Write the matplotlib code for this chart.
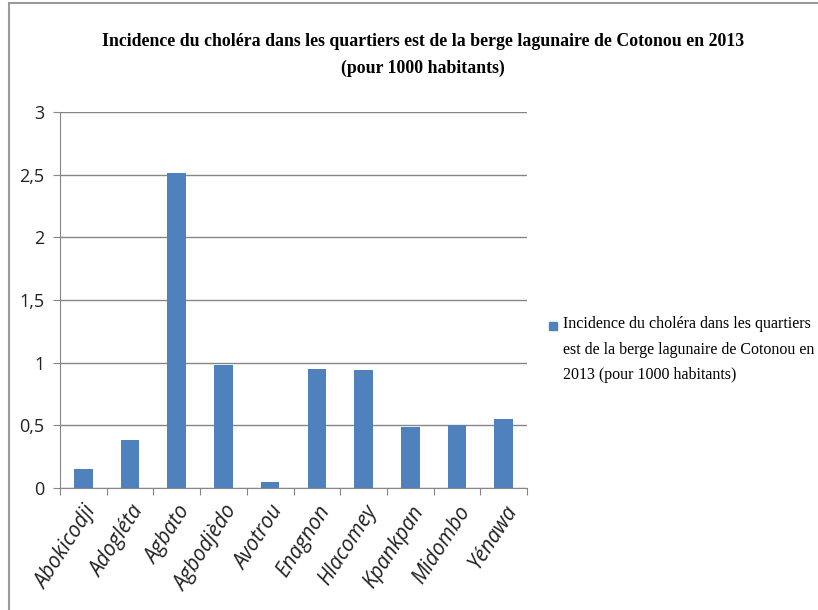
import matplotlib.pyplot as plt
from matplotlib.patches import Rectangle
from matplotlib.ticker import FuncFormatter

quartiers = ["Abokicodji", "Adogléta", "Agbato", "Agbodjèdo", "Avotrou",
             "Enagnon", "Hlacomey", "Kpankpan", "Midombo", "Yénawa"]
incidence = [0.15, 0.38, 2.51, 0.98, 0.05, 0.95, 0.94, 0.49, 0.50, 0.55]
y_ticks = [0, 0.5, 1, 1.5, 2, 2.5, 3]

titre = ("Incidence du choléra dans les quartiers est de la berge lagunaire de Cotonou en 2013\n"
         "(pour 1000 habitants)")
legende = ("Incidence du choléra dans les quartiers\n"
           "est de la berge lagunaire de Cotonou en\n"
           "2013 (pour 1000 habitants)")

bleu = "#4F81BD"
gris = "#868686"

fig = plt.figure(figsize=(8.18, 6.10), dpi=100)
ax = fig.add_axes([60 / 818, 122 / 610, 467 / 818, 376 / 610])

x = range(len(quartiers))
ax.bar(x, incidence, width=0.4, color=bleu, zorder=3)

ax.set_xlim(-0.5, len(quartiers) - 0.5)
ax.set_ylim(0, 3)
ax.set_yticks(y_ticks)
ax.yaxis.set_major_formatter(FuncFormatter(lambda v, p: f"{v:g}".replace(".", ",")))
ax.tick_params(axis="y", length=5, color=gris, labelsize=13, pad=6)
for lab in ax.get_yticklabels():
    lab.set_family("Open Sans")
    lab.set_color("#222222")

ax.set_xticks([i - 0.5 for i in range(len(quartiers) + 1)], minor=False)
ax.set_xticklabels([])
ax.set_xticks(list(x), minor=True)
ax.set_xticklabels(quartiers, minor=True, rotation=57, ha="right",
                   rotation_mode="anchor", fontsize=15, style="italic",
                   family="Open Sans", color="#222222")
ax.tick_params(axis="x", which="major", length=5, color=gris)
ax.tick_params(axis="x", which="minor", length=0, pad=10)

ax.grid(axis="y", color=gris, linewidth=1, zorder=0)
for side in ["top", "right"]:
    ax.spines[side].set_visible(False)
for side in ["left", "bottom"]:
    ax.spines[side].set_color(gris)

fig.text(0.517, 1 - 33 / 610, titre, ha="center", va="top", fontsize=12.8,
         fontweight="bold", family="Liberation Serif", linespacing=1.75)

fig.patches.append(Rectangle((549 / 818, 1 - 330 / 610), 8 / 818, 8 / 610,
                             transform=fig.transFigure, color=bleu))
fig.text(563 / 818, 1 - 316 / 610, legende, ha="left", va="top", fontsize=11.5,
         family="Liberation Serif", linespacing=1.8)

fig.patches.append(Rectangle((9 / 818, -0.01), 1.0, 1 - 3 / 610 + 0.01,
                             transform=fig.transFigure, fill=False,
                             edgecolor="#9a9a9a", linewidth=1.5))

fig.savefig("out.png", dpi=100)
